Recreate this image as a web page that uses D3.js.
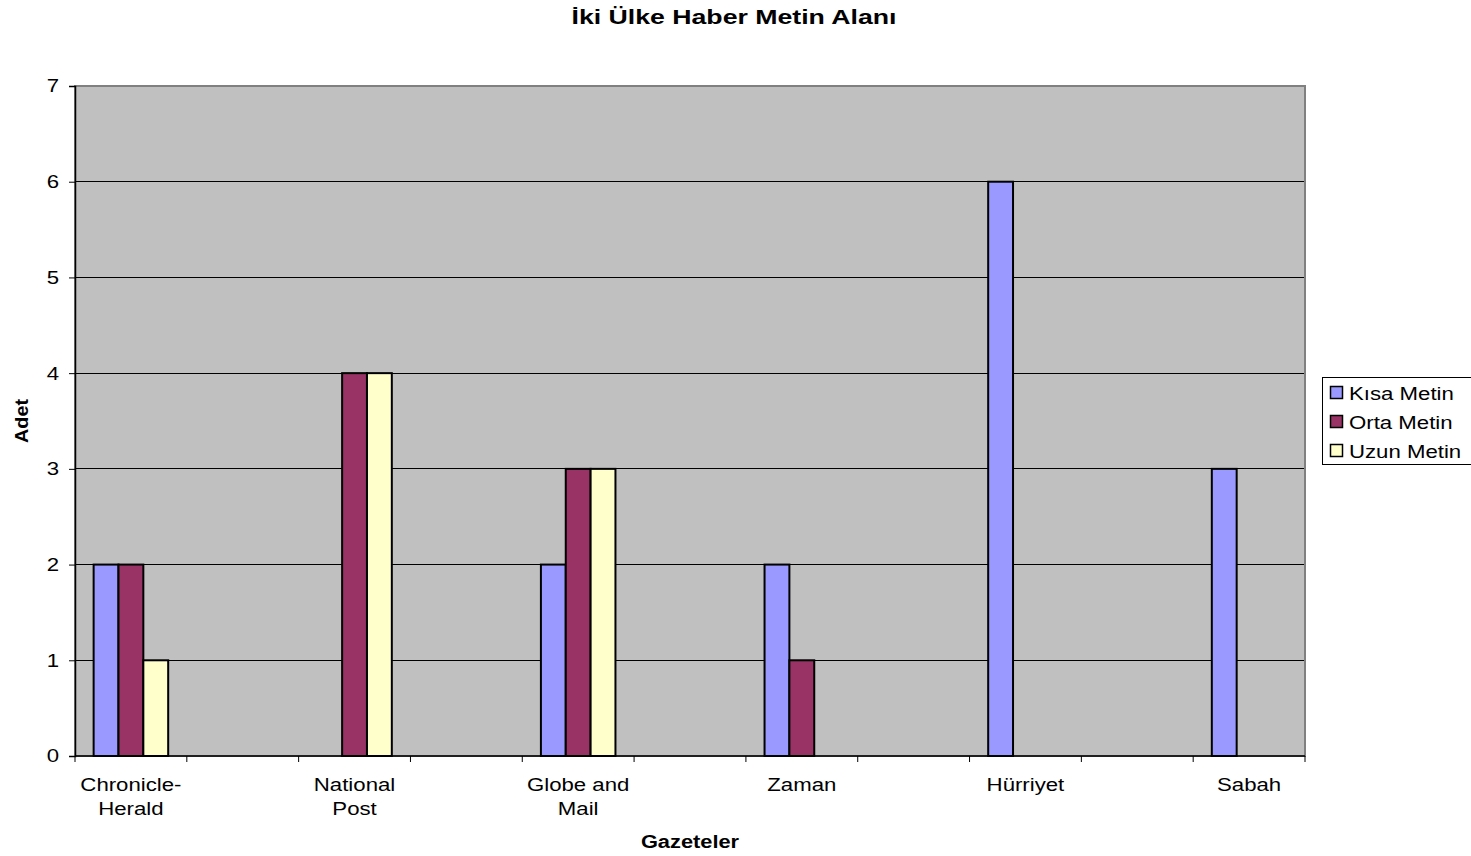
<!DOCTYPE html>
<html><head><meta charset="utf-8">
<script src="https://cdn.jsdelivr.net/npm/d3@7"></script>
<style>body{margin:0;background:#fff;}svg{display:block;font-family:"Liberation Sans",Arial,sans-serif;}</style>
</head><body><svg id="c" width="1471" height="856"></svg>
<script>
const categories = ["Chronicle-\nHerald", "", "National\nPost", "", "Globe and\nMail", "", "Zaman", "", "Hürriyet", "", "Sabah"];
const seriesNames = ["Kısa Metin", "Orta Metin", "Uzun Metin"];
const kisa = [2, 0, 0, 0, 2, 0, 2, 0, 6, 0, 3];
const orta = [2, 0, 4, 0, 3, 0, 1, 0, 0, 0, 0];
const uzun = [1, 0, 4, 0, 3, 0, 0, 0, 0, 0, 0];
const yTicks = [0, 1, 2, 3, 4, 5, 6, 7];
const colors = ["#9999FF", "#993366", "#FFFFCC"];
const series = [kisa, orta, uzun];
const SX = 1.2; // horizontal stretch of the original chart's text
const FS = 18.5;

const svg = d3.select("#c");
const L = 75, R = 1305, T = 86, B = 756;
const idx = categories.map((d, i) => i);
const x = d3.scaleBand().domain(idx).range([L, R]).paddingInner(0).paddingOuter(0);
const y = d3.scaleLinear().domain([0, 7]).range([B, T]);

svg.append("rect").attr("x", L).attr("y", T).attr("width", R - L).attr("height", B - T).attr("fill", "#C0C0C0");

// gridlines
svg.append("g").selectAll("line").data(yTicks.filter(v => v > 0 && v < 7)).join("line")
  .attr("x1", L).attr("x2", R).attr("y1", d => y(d)).attr("y2", d => y(d))
  .attr("stroke", "#000").attr("stroke-width", 1).attr("shape-rendering", "crispEdges");

// plot border
svg.append("rect").attr("x", L).attr("y", T).attr("width", R - L).attr("height", B - T)
  .attr("fill", "none").attr("stroke", "#808080").attr("stroke-width", 2);

// bars
const bw = x.bandwidth();
const groupW = bw / 1.5;
const inner = d3.scaleBand().domain([0, 1, 2]).range([0, groupW]).padding(0);
series.forEach((s, si) => {
  svg.append("g").selectAll("rect").data(s.map((v, i) => ({v, i})).filter(d => d.v > 0)).join("rect")
    .attr("x", d => x(d.i) + (bw - groupW) / 2 + inner(si))
    .attr("y", d => y(d.v))
    .attr("width", inner.bandwidth())
    .attr("height", d => B - y(d.v))
    .attr("fill", colors[si]).attr("stroke", "#000").attr("stroke-width", 2);
});

// y axis
const ya = svg.append("g").attr("transform", `translate(${L},0)`)
  .call(d3.axisLeft(y).tickValues(yTicks).tickSize(6).tickFormat(d3.format("d")));
ya.select(".domain").attr("stroke", "#000").attr("stroke-width", 1.5);
ya.selectAll(".tick line").attr("stroke", "#000");
ya.selectAll("text").attr("font-size", FS).attr("font-family", "Liberation Sans, Arial, sans-serif").attr("fill", "#000")
  .attr("x", 0).attr("transform", `translate(-16,0) scale(${SX},1)`);

// x axis
const xa = svg.append("g").attr("transform", `translate(0,${B})`);
xa.append("line").attr("x1", L).attr("x2", R).attr("stroke", "#000").attr("stroke-width", 1.5);
const bounds = idx.map(i => x(i)).concat([R]);
xa.selectAll("line.t").data(bounds).join("line").attr("class", "t")
  .attr("x1", d => d).attr("x2", d => d).attr("y1", 0).attr("y2", 6).attr("stroke", "#000");
const lbl = xa.selectAll("text").data(idx.filter(i => categories[i] !== "")).join("text")
  .attr("text-anchor", "middle").attr("font-size", FS).attr("fill", "#000")
  .attr("transform", i => `translate(${x(i) + bw / 2},0) scale(${SX},1)`);
lbl.each(function(i) {
  const t = d3.select(this);
  categories[i].split("\n").forEach((line, k) => {
    t.append("tspan").attr("x", 0).attr("y", 35 + k * 24).text(line);
  });
});

// titles
svg.append("text").attr("transform", `translate(734,24) scale(1.27,1)`).attr("text-anchor", "middle")
  .attr("font-size", 21).attr("font-weight", "bold").text("İki Ülke Haber Metin Alanı");
svg.append("text").attr("transform", `translate(690,848) scale(1.18,1)`).attr("text-anchor", "middle")
  .attr("font-size", FS).attr("font-weight", "bold").text("Gazeteler");
svg.append("text").attr("transform", "translate(28,421) rotate(-90) scale(1.07,1)").attr("text-anchor", "middle")
  .attr("font-size", FS).attr("font-weight", "bold").text("Adet");

// legend
const lg = svg.append("g");
lg.append("rect").attr("x", 1322.5).attr("y", 377.5).attr("width", 152).attr("height", 87)
  .attr("fill", "#fff").attr("stroke", "#000").attr("stroke-width", 1);
seriesNames.forEach((n, k) => {
  const yy = 393 + k * 29;
  lg.append("rect").attr("x", 1330.5).attr("y", yy - 6.5).attr("width", 12).attr("height", 12)
    .attr("fill", colors[k]).attr("stroke", "#000").attr("stroke-width", 1.5);
  lg.append("text").attr("transform", `translate(1349,${yy + 6.5}) scale(${SX},1)`).attr("font-size", FS).text(n);
});
</script></body></html>
